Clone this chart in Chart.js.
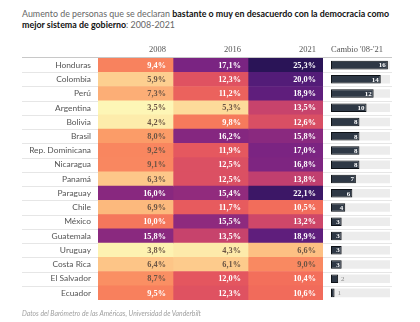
<!DOCTYPE html>
<html lang="es">
<head>
  <meta charset="UTF-8">
  <title>Desacuerdo con la democracia 2008-2021</title>
  <script src="https://cdn.jsdelivr.net/npm/chart.js"></script>
  <style>
    body {
      margin: 0;
      width: 420px;
      height: 322px;
      background: #fff;
      font-family: Lato, sans-serif;
      position: relative;
      overflow: hidden;
    }

    .titulo {
      position: absolute;
      left: 22px;
      top: 9px;
      width: 374px;
      font-size: 8.9px;
      line-height: 10.6px;
      color: #666;
    }

    .titulo b {
      color: #111;
      font-weight: 700;
    }

    .fuente {
      position: absolute;
      left: 22px;
      top: 309px;
      font-size: 6.8px;
      font-style: italic;
      color: #a0a0a0;
    }

    canvas {
      position: absolute;
      left: 0;
      top: 0;
    }
  </style>
</head>
<body>
  <div class="titulo">Aumento de personas que se declaran <b>bastante o muy en desacuerdo con la democracia como mejor sistema de gobierno</b>: 2008-2021</div>
  <canvas id="mapaCalor" width="420" height="322"></canvas>
  <canvas id="cambio" width="420" height="322"></canvas>
  <div class="fuente">Datos del Barómetro de las Américas, Universidad de Vanderbilt</div>

  <script>
    const paises = ['Honduras', 'Colombia', 'Perú', 'Argentina', 'Bolivia', 'Brasil', 'Rep. Dominicana',
      'Nicaragua', 'Panamá', 'Paraguay', 'Chile', 'México', 'Guatemala', 'Uruguay', 'Costa Rica',
      'El Salvador', 'Ecuador'];
    const anios = ['2008', '2016', '2021'];
    const v2008 = [9.4, 5.9, 7.3, 3.5, 4.2, 8.0, 9.2, 9.1, 6.3, 16.0, 6.9, 10.0, 15.8, 3.8, 6.4, 8.7, 9.5];
    const v2016 = [17.1, 12.3, 11.2, 5.3, 9.8, 16.2, 11.9, 12.5, 12.5, 15.4, 11.7, 15.5, 13.5, 4.3, 6.1, 12.0, 12.3];
    const v2021 = [25.3, 20.0, 18.9, 13.5, 12.6, 15.8, 17.0, 16.8, 13.8, 22.1, 10.5, 13.2, 18.9, 6.6, 9.0, 10.4, 10.6];
    const cambio = [16, 14, 12, 10, 8, 8, 8, 8, 7, 6, 4, 3, 3, 3, 3, 2, 1];
    const cambioMax = 16.6;
    const valores = [v2008, v2016, v2021];

    // escala de color tipo magma invertida
    const paradas = [
      [3.5, '#fdf6b6'], [5.3, '#fddb9a'], [6.5, '#fdc385'], [8.0, '#fb9c68'],
      [9.5, '#f8805d'], [10.5, '#f26d5b'], [12.0, '#e4565f'], [13.0, '#d24a67'],
      [13.8, '#c13f6f'], [15.5, '#8e2a7e'], [17.0, '#7b2482'], [19.0, '#5e1e7c'],
      [20.0, '#531c78'], [22.1, '#3c1766'], [25.3, '#2a1457']
    ];

    function hexRgb(h) {
      return [1, 3, 5].map(i => parseInt(h.slice(i, i + 2), 16));
    }

    function colorDe(v) {
      if (v <= paradas[0][0]) return paradas[0][1];
      for (let i = 1; i < paradas.length; i++) {
        const [v1, c1] = paradas[i];
        if (v <= v1) {
          const [v0, c0] = paradas[i - 1];
          const t = (v - v0) / (v1 - v0);
          const a = hexRgb(c0), b = hexRgb(c1);
          return 'rgb(' + a.map((x, k) => Math.round(x + (b[k] - x) * t)).join(',') + ')';
        }
      }
      return paradas[paradas.length - 1][1];
    }

    const fmt = v => v.toFixed(1).replace('.', ',') + '%';
    const serif = '"Liberation Serif", serif';

    const tablaPlugin = {
      id: 'tabla',
      beforeDatasetsDraw(chart) {
        const { ctx } = chart;
        const y = chart.scales.y;
        const paso = y.getPixelForValue(1) - y.getPixelForValue(0);
        ctx.save();
        ctx.strokeStyle = '#e6e6e6';
        ctx.lineWidth = 1;
        for (let i = 1; i < paises.length; i++) {
          const yy = Math.round(y.getPixelForValue(i) - paso / 2) + 0.5;
          ctx.beginPath();
          ctx.moveTo(22, yy);
          ctx.lineTo(392, yy);
          ctx.stroke();
        }
        ctx.strokeStyle = '#c8c8c8';
        ctx.beginPath();
        ctx.moveTo(22, chart.chartArea.top - 0.5);
        ctx.lineTo(392, chart.chartArea.top - 0.5);
        ctx.stroke();
        ctx.restore();
      },
      afterDatasetsDraw(chart) {
        const { ctx } = chart;
        const x = chart.scales.x, y = chart.scales.y;
        ctx.save();
        ctx.textAlign = 'right';
        ctx.textBaseline = 'middle';
        // encabezados de columna
        ctx.font = '8.5px ' + serif;
        ctx.fillStyle = '#555';
        anios.forEach((a, i) => ctx.fillText(a, x.getPixelForValue(i + 1) - 7, 50));
        // valores de cada celda
        ctx.font = 'bold 8.3px ' + serif;
        valores.forEach((serie, i) => {
          serie.forEach((v, j) => {
            ctx.fillStyle = v >= 9.3 ? '#fff' : '#6a5444';
            ctx.fillText(fmt(v), x.getPixelForValue(i + 1) - 7, y.getPixelForValue(j) + 0.5);
          });
        });
        ctx.restore();
      }
    };

    new Chart(document.getElementById('mapaCalor'), {
      type: 'bar',
      data: {
        labels: paises,
        datasets: valores.map((serie, i) => ({
          label: anios[i],
          data: serie.map(() => [i, i + 1]),
          backgroundColor: serie.map(colorDe),
          borderWidth: 0,
          barPercentage: 1,
          categoryPercentage: 1,
          grouped: false
        }))
      },
      options: {
        indexAxis: 'y',
        responsive: false,
        animation: false,
        layout: { padding: { left: 22, right: 97, top: 58, bottom: 22 } },
        plugins: { legend: { display: false }, tooltip: { enabled: false } },
        scales: {
          x: { type: 'linear', min: 0, max: 3, display: false },
          y: {
            grid: { display: false, drawTicks: false },
            border: { display: false },
            ticks: { color: '#555', padding: 7, font: { family: 'Lato', size: 8.4 } },
            afterFit(scale) { scale.width = 76; }
          }
        }
      },
      plugins: [tablaPlugin]
    });

    const cambioPlugin = {
      id: 'cambioEtiquetas',
      afterDatasetsDraw(chart) {
        const { ctx } = chart;
        const x = chart.scales.x, y = chart.scales.y;
        ctx.save();
        ctx.textBaseline = 'middle';
        ctx.textAlign = 'left';
        ctx.font = '8.5px ' + serif;
        ctx.fillStyle = '#555';
        ctx.fillText("Cambio '08-'21", chart.chartArea.left, 50);
        cambio.forEach((v, j) => {
          const fin = x.getPixelForValue(v);
          const yy = y.getPixelForValue(j) + 0.5;
          if (v >= 3) {
            ctx.textAlign = 'right';
            ctx.fillStyle = '#fff';
            ctx.font = 'bold 7px ' + serif;
            ctx.fillText(v, fin - 2, yy);
          } else {
            ctx.textAlign = 'left';
            ctx.fillStyle = '#888';
            ctx.font = '7px ' + serif;
            ctx.fillText(v, fin + 3, yy);
          }
        });
        ctx.restore();
      }
    };

    new Chart(document.getElementById('cambio'), {
      type: 'bar',
      data: {
        labels: paises,
        datasets: [
          {
            label: 'Cambio',
            data: cambio,
            backgroundColor: '#2e3845',
            borderColor: '#0e1217',
            borderWidth: 1,
            borderSkipped: false,
            barPercentage: 0.6,
            categoryPercentage: 1,
            grouped: false
          },
          {
            label: 'Pista',
            data: paises.map(() => cambioMax),
            backgroundColor: '#ececec',
            borderWidth: 0,
            barPercentage: 0.6,
            categoryPercentage: 1,
            grouped: false
          }
        ]
      },
      options: {
        indexAxis: 'y',
        responsive: false,
        animation: false,
        layout: { padding: { left: 331, right: 30, top: 58, bottom: 22 } },
        plugins: { legend: { display: false }, tooltip: { enabled: false } },
        scales: {
          x: { min: 0, max: cambioMax, display: false },
          y: { display: false }
        }
      },
      plugins: [cambioPlugin]
    });
  </script>
</body>
</html>
